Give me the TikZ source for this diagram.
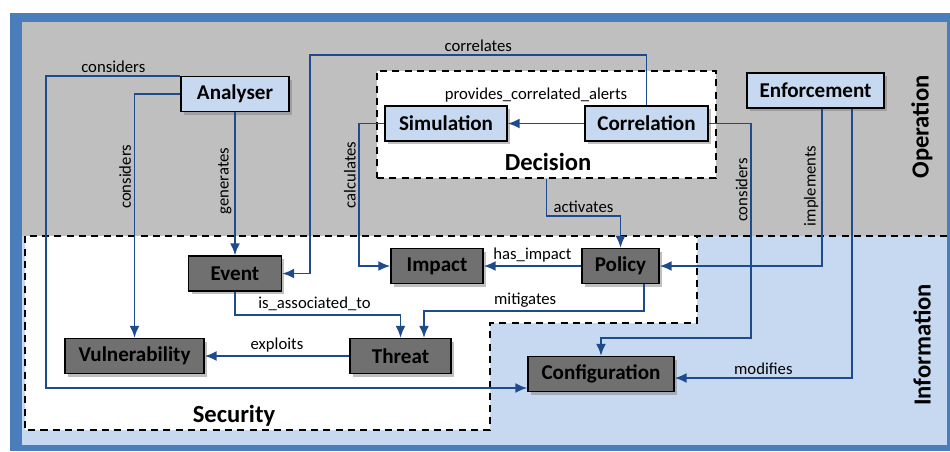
\documentclass[tikz,border=0pt]{standalone}
\usepackage{fontspec}
\setmainfont{Carlito}
\usetikzlibrary{arrows.meta,shadows}
\definecolor{framebl}{HTML}{4A7EBB}
\definecolor{opgray}{HTML}{BFBFBF}
\definecolor{infobl}{HTML}{C6D9F1}
\definecolor{boxgray}{HTML}{707070}
\definecolor{linkbl}{HTML}{1F4A8C}

\begin{document}
\begin{tikzpicture}[x=0.02cm, y=-0.02cm,
    opbox/.style={draw, rectangle, fill=infobl, line width=0.8pt, minimum height=0.7cm, inner sep=0pt,
        font=\bfseries\fontsize{12}{14}\selectfont,
        drop shadow={shadow xshift=0.06cm, shadow yshift=-0.06cm, opacity=0.5}},
    infobox/.style={opbox, fill=boxgray},
    link/.style={draw=linkbl, line width=1.1pt, -{Latex[length=0.24cm,width=0.2cm]}},
    lbl/.style={font=\fontsize{9.5}{11}\selectfont, text=black, inner sep=1.5pt},
    vlbl/.style={lbl, rotate=90, anchor=south},
    region/.style={font=\bfseries\fontsize{14}{16}\selectfont},
    zone/.style={line width=1.3pt, dash pattern=on 4pt off 3pt}]
        \useasboundingbox (0,0) rectangle (950,451);

        % Layers
        \fill[framebl] (10,13) rectangle (950,451);
        \fill[opgray] (22,22) rectangle (947,236);
        \fill[infobl] (22,236) rectangle (947,445);
        \fill[white] (25,236) -- (697,236) -- (697,323) -- (490,323) -- (490,430) -- (25,430) -- cycle;
        \draw[zone] (947,236) -- (25,236) -- (25,430) -- (490,430) -- (490,323) -- (697,323) -- (697,236);
        \node (decision) [zone, draw, fill=white, minimum width=6.78cm, minimum height=2.14cm] at (546.5,124.5) {};

        % Nodes
        \node (analyser) [opbox, minimum width=2.16cm] at (235,94) {Analyser};
        \node (simulation) [opbox, minimum width=2.44cm] at (446,123.5) {Simulation};
        \node (correlation) [opbox, minimum width=2.46cm] at (646.5,123.5) {Correlation};
        \node (enforcement) [opbox, minimum width=2.74cm] at (815.5,90.5) {Enforcement};
        \node (event) [infobox, minimum width=1.86cm] at (235,273.5) {Event};
        \node (impact) [infobox, minimum width=1.84cm] at (437,266) {Impact};
        \node (policy) [infobox, minimum width=1.54cm] at (620.5,266) {Policy};
        \node (vulnerability) [infobox, minimum width=2.78cm] at (134.5,356) {Vulnerability};
        \node (threat) [infobox, minimum width=2.02cm] at (400.5,356) {Threat};
        \node (configuration) [infobox, minimum width=2.92cm] at (601,374) {Configuration};

        % Layer names
        \node (decisionlbl) [region] at (548,162) {Decision};
        \node (securitylbl) [region] at (234,416) {Security};
        \node (operationlbl) [region, rotate=90] at (922,127) {Operation};
        \node (informationlbl) [region, rotate=90] at (922,345) {Information};

        % Edges
        \draw[link] (analyser.west) -| node[vlbl, pos=.67] {considers} (vulnerability.north);
        \draw[link] (analyser.north west) -- ++(-134,0) node[lbl, midway, above] {considers} |- ([yshift=-0.28cm]configuration.west);
        \draw[link] (analyser.south) -- node[vlbl, pos=.48] {generates} (event.north);
        \draw[link] (correlation.north) |- node[lbl, pos=.75, above] {correlates} (310,55) |- (event.east);
        \draw[link] (simulation.west) -- ++(-25,0) |- node[vlbl, pos=.18] {calculates} (impact.west);
        \draw[link] (correlation.west) -- node[lbl, midway, above=0.36cm, xshift=-0.2cm] {provides\_correlated\_alerts} (simulation.east);
        \draw[link] (decision.south) -- ++(0,37) -| node[lbl, pos=.25, above] {activates} (policy.north);
        \draw[link] (policy.west) -- node[lbl, midway, above] {has\_impact} (impact.east);
        \draw[link] ([xshift=0.47cm]policy.south) -- ++(0,27) -| node[lbl, pos=.27, above] {mitigates} ([xshift=0.47cm]threat.north);
        \draw[link] (event.south) -- ++(0,23) -| node[lbl, pos=.24, above] {is\_associated\_to} (threat.north);
        \draw[link] (threat.west) -- node[lbl, midway, above] {exploits} (vulnerability.east);
        \draw[link] (correlation.east) -| node[vlbl, pos=.655] {considers} (751,338) -| (configuration.north);
        \draw[link] ([xshift=0.13cm]enforcement.south) |- node[vlbl, pos=.245] {implements} (policy.east);
        \draw[link] ([xshift=0.73cm]enforcement.south) |- node[lbl, pos=.75, above] {modifies} ([yshift=-0.08cm]configuration.east);
    \end{tikzpicture}
\end{document}
